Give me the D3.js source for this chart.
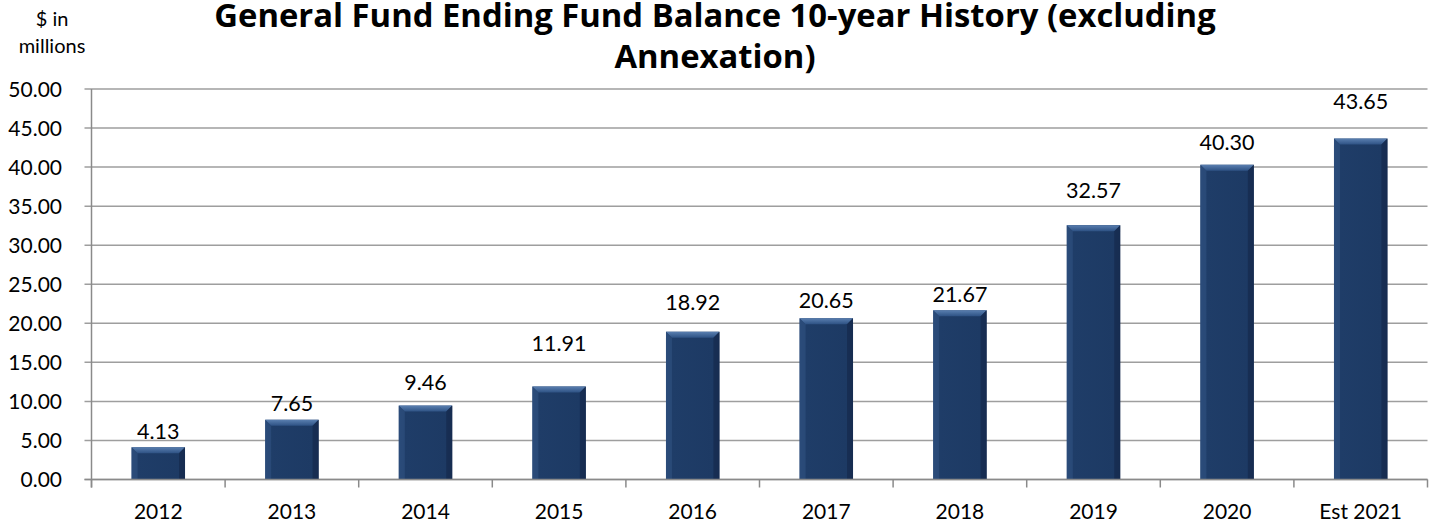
<!DOCTYPE html>
<html><head><meta charset="utf-8">
<script src="https://cdn.jsdelivr.net/npm/d3@7/dist/d3.min.js"></script>
<style>
html,body{margin:0;padding:0;background:#fff;}
svg{display:block;font-family:Lato,"Open Sans",sans-serif;}
</style></head>
<body><svg id="chart" width="1431" height="522"></svg>
<script>
// ---- data ----
const categories = ["2012","2013","2014","2015","2016","2017","2018","2019","2020","Est 2021"];
const values = [4.13,7.65,9.46,11.91,18.92,20.65,21.67,32.57,40.30,43.65];
const yTicks = [0,5,10,15,20,25,30,35,40,45,50];
const titleLines = ["General Fund Ending Fund Balance 10-year History (excluding","Annexation)"];
const unitLines = ["$ in","millions"];

// ---- layout ----
const W = 1431, H = 522;
const plot = {left: 91.5, right: 1427.5, top: 89, bottom: 479.5};
// manual label lifts (px above bar top, as placed in the original)
const labelGap = [8,9,16,35,22,10,8,27,15,30];

const svg = d3.select("#chart");
const x = d3.scaleBand().domain(categories).range([plot.left, plot.right]).paddingInner(0).paddingOuter(0);
const y = d3.scaleLinear().domain([0,50]).range([plot.bottom, plot.top]);

const defs = svg.append("defs");
const g1 = defs.append("linearGradient").attr("id","barBody").attr("x1","0").attr("x2","1").attr("y1","0").attr("y2","0");
g1.append("stop").attr("offset","0").attr("stop-color","#2a4a78");
g1.append("stop").attr("offset","0.12").attr("stop-color","#1f3d68");
g1.append("stop").attr("offset","0.88").attr("stop-color","#1d3a64");
g1.append("stop").attr("offset","1").attr("stop-color","#172f54");
const g2 = defs.append("linearGradient").attr("id","barTop").attr("x1","0").attr("x2","0").attr("y1","0").attr("y2","1");
g2.append("stop").attr("offset","0").attr("stop-color","#5a7fb0");
g2.append("stop").attr("offset","1").attr("stop-color","#2e5284");

// gridlines
svg.append("g").selectAll("line").data(yTicks).join("line")
  .attr("x1", plot.left - 7).attr("x2", plot.right)
  .attr("y1", d => y(d)).attr("y2", d => y(d))
  .attr("stroke", "#9e9e9e").attr("stroke-width", 1.5);

// y-axis labels
svg.append("g").selectAll("text").data(yTicks).join("text")
  .attr("x", 62).attr("y", d => y(d)).attr("dy","0.36em")
  .attr("text-anchor","end").attr("font-size", 21).attr("fill","#000")
  .text(d => d3.format(".2f")(d));

// bars
const bw = x.bandwidth() * 0.4;
const bars = svg.append("g").selectAll("g").data(values).join("g")
  .attr("transform", (d,i) => `translate(${x(categories[i]) + (x.bandwidth()-bw)/2},0)`);
bars.append("rect")
  .attr("x", 0).attr("y", d => y(d)).attr("width", bw).attr("height", d => y(0) - y(d))
  .attr("fill", "url(#barBody)");
const bev = 6;
bars.append("path")
  .attr("d", d => `M0,${y(d)} L${bw},${y(d)} L${bw-bev},${y(d)+bev} L${bev},${y(d)+bev} Z`)
  .attr("fill", "url(#barTop)");
bars.append("path")
  .attr("d", d => `M0,${y(d)} L${bev},${y(d)+bev} L${bev},${y(0)} L0,${y(0)} Z`)
  .attr("fill", "#2c4c7b").attr("opacity",0.8);
bars.append("path")
  .attr("d", d => `M${bw},${y(d)} L${bw-bev},${y(d)+bev} L${bw-bev},${y(0)} L${bw},${y(0)} Z`)
  .attr("fill", "#162c50").attr("opacity",0.8);

// axis lines
svg.append("line").attr("x1", plot.left).attr("x2", plot.left).attr("y1", plot.top).attr("y2", plot.bottom + 8)
  .attr("stroke","#8a8a8a").attr("stroke-width",1.5);
svg.append("line").attr("x1", plot.left - 7).attr("x2", plot.right).attr("y1", plot.bottom).attr("y2", plot.bottom)
  .attr("stroke","#8a8a8a").attr("stroke-width",1.5);
const bounds = categories.map(c => x(c)).concat([plot.right]);
svg.append("g").selectAll("line").data(bounds).join("line")
  .attr("x1", d => d).attr("x2", d => d).attr("y1", plot.bottom).attr("y2", plot.bottom + 8)
  .attr("stroke","#8a8a8a").attr("stroke-width",1.5);

// category labels
svg.append("g").selectAll("text").data(categories).join("text")
  .attr("x", d => x(d) + x.bandwidth()/2).attr("y", 519)
  .attr("text-anchor","middle").attr("font-size", 21).attr("fill","#000")
  .text(d => d);

// value labels
svg.append("g").selectAll("text").data(values).join("text")
  .attr("x", (d,i) => x(categories[i]) + x.bandwidth()/2)
  .attr("y", (d,i) => y(d) - labelGap[i])
  .attr("text-anchor","middle").attr("font-size", 21.5).attr("fill","#000")
  .text(d => d3.format(".2f")(d));

// title
svg.append("g").selectAll("text").data(titleLines).join("text")
  .attr("x", 715).attr("y", (d,i) => 27 + i*41)
  .attr("text-anchor","middle").attr("font-size", 32.8).attr("font-weight","bold")
  .attr("font-family", "'Open Sans', Lato, sans-serif").attr("fill","#000")
  .text(d => d);

// unit label
svg.append("g").selectAll("text").data(unitLines).join("text")
  .attr("x", 52).attr("y", (d,i) => 26 + i*27)
  .attr("text-anchor","middle").attr("font-size", 20).attr("fill","#000")
  .text(d => d);
</script></body></html>
